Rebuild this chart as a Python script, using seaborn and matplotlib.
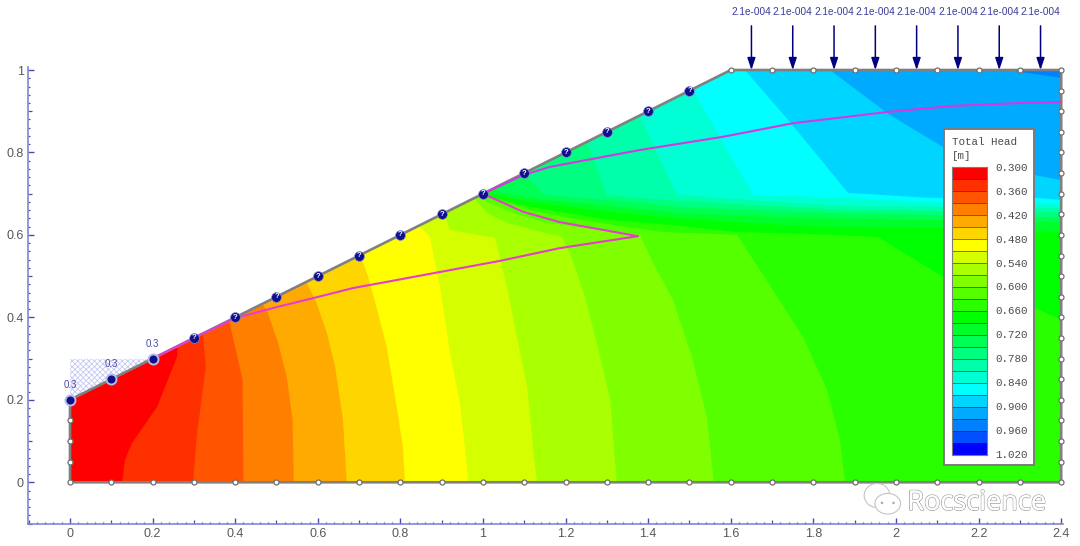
import numpy as np
import pandas as pd

import matplotlib
matplotlib.use("Agg")

import matplotlib.pyplot as plt
import matplotlib.patheffects as pe
from matplotlib.colors import BoundaryNorm, ListedColormap
from matplotlib.patches import Ellipse, Polygon
from matplotlib.ticker import MultipleLocator
import seaborn as sns

# ------------------------------------------------------------
# Data
# ------------------------------------------------------------

band_colors = [
    "#ff0000", "#ff3000", "#ff5500", "#ff8000", "#ffaa00", "#ffd500",
    "#ffff00", "#d5ff00", "#aaff00", "#80ff00", "#55ff00", "#2aff00",
    "#00ff00", "#00ff2a", "#00ff55", "#00ff80", "#00ffaa", "#00ffd5",
    "#00ffff", "#00d5ff", "#00aaff", "#0080ff", "#0050ff", "#0000ff",
]
head_levels = [0.30, 0.33, 0.36, 0.39, 0.42, 0.45, 0.48, 0.51, 0.54, 0.57, 0.60, 0.63, 0.66,
               0.69, 0.72, 0.75, 0.78, 0.81, 0.84, 0.87, 0.90, 0.93, 0.96, 0.99, 1.02]
legend_labels = ["0.300", "0.360", "0.420", "0.480", "0.540", "0.600", "0.660",
                 "0.720", "0.780", "0.840", "0.900", "0.960", "1.020"]

# domain outline
outline_x = [0, 0, 1.6, 2.4, 2.4, 0]
outline_y = [0, 0.2, 1.0, 1.0, 0, 0]

# contour traces, one pair of lists for each head value
h330_x = [0.2615, 0.259, 0.211, 0.150, 0.133, 0.126]
h330_y = [0.3306, 0.304, 0.183, 0.095, 0.054, 0]
h360_x = [0.322, 0.329, 0.308, 0.298]
h360_y = [0.362, 0.280, 0.120, 0]
h390_x = [0.385, 0.400, 0.418, 0.419, 0.420]
h390_y = [0.392, 0.328, 0.248, 0.120, 0]
h420_x = [0.465, 0.479, 0.504, 0.525, 0.539, 0.542]
h420_y = [0.435, 0.411, 0.338, 0.255, 0.151, 0]
h450_x = [0.571, 0.597, 0.622, 0.642, 0.661, 0.670]
h450_y = [0.488, 0.435, 0.362, 0.280, 0.151, 0]
h480_x = [0.702, 0.722, 0.742, 0.767, 0.791, 0.806, 0.811]
h480_y = [0.554, 0.498, 0.425, 0.328, 0.183, 0.086, 0]
h510_x = [0.843, 0.872, 0.879, 0.896, 0.920, 0.944, 0.956, 0.964]
h510_y = [0.624, 0.595, 0.556, 0.474, 0.314, 0.192, 0.086, 0]
h540_x = [0.903, 0.920, 1.029, 1.058, 1.082, 1.107, 1.121, 1.131]
h540_y = [0.658, 0.612, 0.593, 0.474, 0.352, 0.231, 0.086, 0]
h570_x = [0.978, 1.010, 1.058, 1.169, 1.191, 1.215, 1.247, 1.278, 1.308, 1.324]
h570_y = [0.690, 0.653, 0.629, 0.600, 0.595, 0.544, 0.449, 0.328, 0.200, 0]
h600_x = [0.988, 1.017, 1.073, 1.155, 1.332, 1.380, 1.412, 1.460, 1.508, 1.542, 1.559]
h600_y = [0.694, 0.677, 0.653, 0.629, 0.607, 0.600, 0.532, 0.442, 0.297, 0.158, 0]
h630_x = [0.993, 1.034, 1.114, 1.235, 1.436, 1.615, 1.702, 1.775, 1.833, 1.864, 1.877]
h630_y = [0.697, 0.685, 0.660, 0.636, 0.607, 0.600, 0.466, 0.352, 0.224, 0.103, 0]
h660_x = [0.997, 1.114, 1.308, 1.477, 1.615, 1.799, 1.956, 2.114, 2.337, 2.400]
h660_y = [0.698, 0.668, 0.636, 0.622, 0.607, 0.602, 0.595, 0.498, 0.423, 0.394]
h690_x = [1.002, 1.114, 1.308, 1.477, 1.768, 1.889, 2.131, 2.400]
h690_y = [0.701, 0.680, 0.656, 0.639, 0.622, 0.619, 0.617, 0.607]
h720_x = [1.029, 1.041, 1.150, 1.308, 1.477, 1.768, 2.131, 2.400]
h720_y = [0.714, 0.702, 0.685, 0.670, 0.653, 0.641, 0.636, 0.631]
h750_x = [1.097, 1.150, 1.308, 1.477, 1.768, 2.131, 2.400]
h750_y = [0.750, 0.697, 0.685, 0.668, 0.656, 0.648, 0.643]
h780_x = [1.252, 1.300, 1.477, 1.646, 1.889, 2.131, 2.400]
h780_y = [0.825, 0.697, 0.682, 0.673, 0.660, 0.658, 0.656]
h810_x = [1.378, 1.470, 1.646, 1.889, 2.131, 2.400]
h810_y = [0.891, 0.697, 0.685, 0.670, 0.668, 0.665]
h840_x = [1.508, 1.518, 1.654, 1.884, 2.131, 2.400]
h840_y = [0.956, 0.935, 0.697, 0.690, 0.677, 0.675]
h870_x = [1.634, 1.743, 1.884, 2.082, 2.337, 2.400]
h870_y = [1.000, 0.874, 0.702, 0.690, 0.690, 0.685]
h900_x = [1.840, 1.985, 2.114, 2.337, 2.400]
h900_y = [1.000, 0.891, 0.813, 0.745, 0.733]
h930_x = [2.269, 2.400]
h930_y = [1.000, 0.981]

# phreatic surface, two branches leaving the seepage face at x = 1
upper_x = [1.0, 1.097, 1.162, 1.38, 1.581, 1.751, 1.978, 2.138, 2.30, 2.40]
upper_y = [0.70, 0.745, 0.765, 0.806, 0.838, 0.871, 0.898, 0.913, 0.920, 0.922]
lower_x = [1.0, 1.097, 1.186, 1.375, 1.186, 1.041, 0.879, 0.804, 0.685, 0.598, 0.501, 0.400, 0.30, 0.21]
lower_y = [0.70, 0.656, 0.631, 0.597, 0.568, 0.537, 0.507, 0.493, 0.471, 0.449, 0.425, 0.398, 0.35, 0.305]

# nodes
slope_x = [0.3, 0.4, 0.5, 0.6, 0.7, 0.8, 0.9, 1.0, 1.1, 1.2, 1.3, 1.4, 1.5]
slope_y = [0.35, 0.40, 0.45, 0.50, 0.55, 0.60, 0.65, 0.70, 0.75, 0.80, 0.85, 0.90, 0.95]
fixed_x = [0, 0.1, 0.2]
fixed_y = [0.2, 0.25, 0.3]
fixed_labels = ["0.3", "0.3", "0.3"]
bottom_nodes = [0, 0.1, 0.2, 0.3, 0.4, 0.5, 0.6, 0.7, 0.8, 0.9, 1.0, 1.1, 1.2,
                1.3, 1.4, 1.5, 1.6, 1.7, 1.8, 1.9, 2.0, 2.1, 2.2, 2.3, 2.4]
top_nodes = [1.6, 1.7, 1.8, 1.9, 2.0, 2.1, 2.2, 2.3, 2.4]
left_nodes = [0.05, 0.10, 0.15]
right_nodes = [0.05, 0.10, 0.15, 0.20, 0.25, 0.30, 0.35, 0.40, 0.45, 0.50,
               0.55, 0.60, 0.65, 0.70, 0.75, 0.80, 0.85, 0.90, 0.95]

# infiltration load
load_x = [1.65, 1.75, 1.85, 1.95, 2.05, 2.15, 2.25, 2.35]
load_label = "2.1e-004"
ponded_x = [0, 0, 0.2]
ponded_y = [0.2, 0.3, 0.3]

traces = [
    (h330_x, h330_y), (h360_x, h360_y), (h390_x, h390_y), (h420_x, h420_y),
    (h450_x, h450_y), (h480_x, h480_y), (h510_x, h510_y), (h540_x, h540_y),
    (h570_x, h570_y), (h600_x, h600_y), (h630_x, h630_y), (h660_x, h660_y),
    (h690_x, h690_y), (h720_x, h720_y), (h750_x, h750_y), (h780_x, h780_y),
    (h810_x, h810_y), (h840_x, h840_y), (h870_x, h870_y), (h900_x, h900_y),
    (h930_x, h930_y),
]

# ------------------------------------------------------------
# Figure
# ------------------------------------------------------------

sns.set_style("white")
plt.rcParams["font.family"] = ["Liberation Sans", "DejaVu Sans"]
plt.rcParams["hatch.linewidth"] = 0.6

W, H = 1080, 546


def box(left, top, right, bottom):
    return [left / W, 1 - bottom / H, (right - left) / W, (bottom - top) / H]


fig = plt.figure(figsize=(W / 100, H / 100), dpi=100, facecolor="white")
ax = fig.add_axes(box(28, 67, 1063, 524))
ax.set_xlim(-0.1017, 2.4044)
ax.set_ylim(-0.1012, 1.0073)
ax.set_facecolor("white")

cmap = ListedColormap(band_colors)
norm = BoundaryNorm(head_levels, cmap.N)

section = Polygon(np.column_stack([outline_x, outline_y]), closed=True,
                  fc=band_colors[0], ec="none", zorder=1)
ax.add_patch(section)

# every band is the area on the high head side of its trace, painted low to high
for band, (xs, ys) in enumerate(traces, start=1):
    if ys[-1] == 0:
        tail_x, tail_y = [xs[-1], 3], [-1, -1]
    else:
        tail_x, tail_y = [3], [ys[-1]]
    px_all = xs + tail_x + [3, xs[0]]
    py_all = ys + tail_y + [2, 2]
    for poly in ax.fill(px_all, py_all, color=band_colors[band], lw=0, zorder=1.5):
        poly.set_clip_path(section)

ax.add_patch(Polygon(np.column_stack([ponded_x, ponded_y]), closed=True, fc="none",
                     ec="#c4c8f4", hatch="xxxxxx", lw=0, zorder=1))

ax.plot(outline_x, outline_y, color="#808080", lw=1.9, zorder=3, solid_joinstyle="miter")

sns.lineplot(x=upper_x, y=upper_y, sort=False, estimator=None, ax=ax,
             color="#d23ade", lw=1.5, zorder=4)
sns.lineplot(x=lower_x, y=lower_y, sort=False, estimator=None, ax=ax,
             color="#e63cd0", lw=1.5, zorder=4)

# plain mesh nodes round the section
edge_x = bottom_nodes + top_nodes + [0] * len(left_nodes) + [2.4] * len(right_nodes)
edge_y = ([0] * len(bottom_nodes) + [1] * len(top_nodes) + left_nodes + right_nodes)
sns.scatterplot(x=edge_x, y=edge_y, ax=ax, s=13, color="white", edgecolor="#707070",
                linewidth=0.9, zorder=5, clip_on=False)

# seepage face and fixed head nodes
sns.scatterplot(x=slope_x, y=slope_y, ax=ax, s=50, color="#10108c", edgecolor="#8a8ad0",
                linewidth=0.5, zorder=6)
for nx, ny in zip(slope_x, slope_y):
    ax.text(nx, ny, "?", color="white", fontsize=5.5, fontweight="bold",
            ha="center", va="center", zorder=7)
sns.scatterplot(x=fixed_x, y=fixed_y, ax=ax, s=52, color="#10108c", edgecolor="#b4bce8",
                linewidth=1.4, zorder=6)
for nx, ny, lab in zip(fixed_x, fixed_y, fixed_labels):
    ax.annotate(lab, (nx, ny), xytext=(0, 7), textcoords="offset points", ha="center",
                va="bottom", fontsize=7, color="#4848a8", zorder=7)

# load arrows
for lx in load_x:
    ax.annotate("", xy=(lx, 1.0), xytext=(lx, 1.107), annotation_clip=False,
                arrowprops=dict(arrowstyle="-|>,head_width=0.24,head_length=0.72",
                                color="#000080", lw=1.1, shrinkA=0, shrinkB=0), zorder=8)
    ax.text(lx, 1.141, load_label, color="#3a3a9c", fontsize=7.2, ha="center",
            va="center", clip_on=False)

# axes
ax.spines[["top", "right"]].set_visible(False)
for side in ["left", "bottom"]:
    ax.spines[side].set_color("#8484d4")
    ax.spines[side].set_linewidth(1.2)

ax.xaxis.set_minor_locator(MultipleLocator(0.02))
ax.yaxis.set_minor_locator(MultipleLocator(0.02))
ax.set_xticks([0, 0.2, 0.4, 0.6, 0.8, 1, 1.2, 1.4, 1.6, 1.8, 2, 2.2, 2.4])
ax.set_xticklabels(["0", "0.2", "0.4", "0.6", "0.8", "1", "1.2", "1.4", "1.6", "1.8", "2", "2.2", "2.4"])
ax.set_yticks([0, 0.2, 0.4, 0.6, 0.8, 1])
ax.set_yticklabels(["0", "0.2", "0.4", "0.6", "0.8", "1"])
ax.tick_params(which="major", direction="in", length=4.5, width=1.0, color="#4a4ab4",
               labelsize=9, labelcolor="#585858", pad=3, bottom=True, left=True)
ax.tick_params(which="minor", direction="in", length=1.6, width=0.9, color="#4a4ab4",
               bottom=True, left=True)
for axis in [ax.xaxis, ax.yaxis]:
    for loc, tick in zip(axis.get_minorticklocs(), axis.get_minor_ticks()):
        if abs(loc * 10 - round(loc * 10)) < 1e-6:
            tick.tick1line.set_markersize(3)

# watermark
mark = dict(fc="white", ec="#c4c4c4", lw=0.8, zorder=9, clip_on=False)
ax.add_patch(Ellipse((1.954, -0.032), 0.062, 0.058, **mark))
ax.add_patch(Ellipse((1.980, -0.052), 0.062, 0.050, **mark))
for wx, wy in [(1.966, -0.050), (1.994, -0.050)]:
    ax.add_patch(Ellipse((wx, wy), 0.006, 0.006, fc="#a8a8a8", ec="none", zorder=10))
ax.text(2.196, -0.050, "Rocscience", fontsize=19.5, family="Open Sans", color="white",
        ha="center", va="center", zorder=10,
        path_effects=[pe.withStroke(linewidth=1.1, foreground="#a0a0a0"),
                      pe.Normal()])

# legend box
lg = fig.add_axes(box(944, 129, 1034, 465), zorder=20)
lg.set_facecolor("white")
lg.set_xticks([])
lg.set_yticks([])
for spine in lg.spines.values():
    spine.set_color("#7c7c7c")
    spine.set_linewidth(1.4)

mono = dict(family="Liberation Mono", color="#4c4c4c", transform=fig.transFigure,
            zorder=30, va="center")
fig.text(952 / W, 1 - 142 / H, "Total Head", fontsize=7.8, **mono)
fig.text(952 / W, 1 - 156 / H, "[m]", fontsize=7.8, **mono)

strip = fig.add_axes(box(952, 167, 987, 455), zorder=21)
band_table = pd.DataFrame({"head": head_levels[:-1]})
sns.heatmap(band_table, ax=strip, cmap=cmap, norm=norm, cbar=False, xticklabels=False,
            yticklabels=False, linewidths=0.7, linecolor=(0.2, 0.1, 0, 0.55))
strip.set_xlabel("")
strip.set_ylabel("")
for spine in strip.spines.values():
    spine.set_visible(True)
    spine.set_color("#7c7c7c")
    spine.set_linewidth(0.8)

for i, lab in enumerate(legend_labels):
    fig.text(995 / W, 1 - (168 + i * 23.9) / H, lab, fontsize=7.8, **mono)

fig.savefig("out.png", dpi=100)
plt.close(fig)
